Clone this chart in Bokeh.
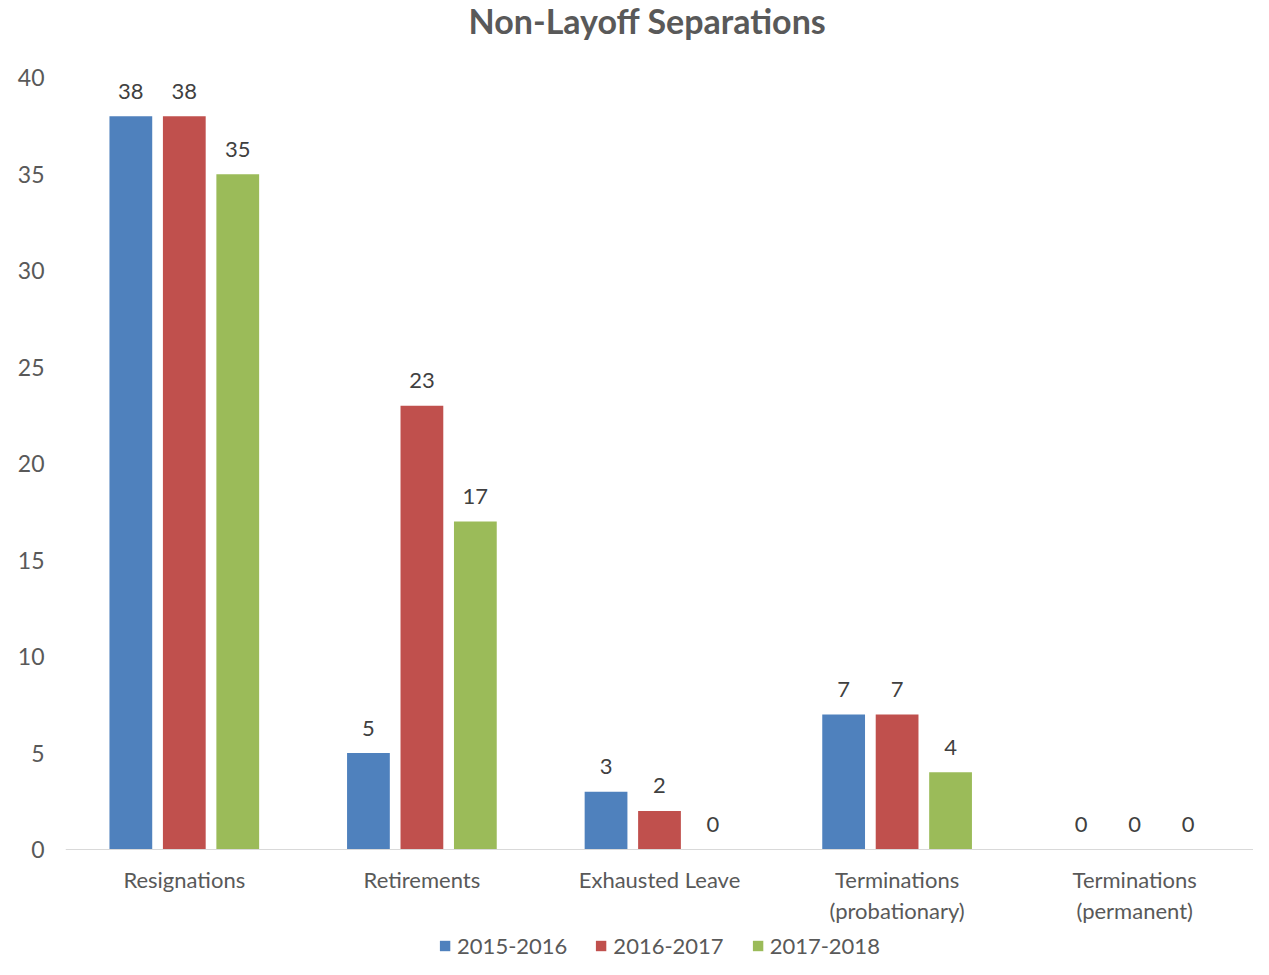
from bokeh.plotting import figure
from bokeh.models import ColumnDataSource, FactorRange, Range1d, Legend, LegendItem, Label
from bokeh.transform import dodge
from bokeh.core.properties import value
from bokeh.embed import file_html
from bokeh.resources import INLINE

categories = ["Resignations", "Retirements", "Exhausted Leave",
              "Terminations\n(probationary)", "Terminations\n(permanent)"]
series_names = ["2015-2016", "2016-2017", "2017-2018"]
s2015 = [38, 5, 3, 7, 0]
s2016 = [38, 23, 2, 7, 0]
s2017 = [35, 17, 0, 4, 0]
y_ticks = [0, 5, 10, 15, 20, 25, 30, 35, 40]
title_text = "Non-Layoff Separations"

colors = ["#4F81BD", "#C0504D", "#9BBB59"]
FONT = "Lato"

src = ColumnDataSource(dict(cat=categories, a=s2015, b=s2016, c=s2017,
                            la=[str(v) for v in s2015],
                            lb=[str(v) for v in s2016],
                            lc=[str(v) for v in s2017]))

# frame spans full height; extra room above 40 for the title and below 0 for labels/legend
p = figure(x_range=FactorRange(*categories, range_padding=0),
           y_range=Range1d(-5.7, 44.0), width=1253, height=959,
           output_backend="svg", toolbar_location=None,
           min_border_left=65, min_border_right=0,
           min_border_top=0, min_border_bottom=0)

title = Label(x=2.5, y=40, x_units="data", y_units="data", text=title_text,
              x_offset=-12, y_offset=57, text_align="center", text_baseline="middle",
              text_font=FONT, text_font_size="34px", text_font_style="bold",
              text_color="#595959")
p.add_layout(title)

offsets = [-0.225, 0.0, 0.225]
fields = ["a", "b", "c"]
lfields = ["la", "lb", "lc"]
renderers = []
for off, f, lf, col in zip(offsets, fields, lfields, colors):
    r = p.vbar(x=dodge("cat", off, range=p.x_range), top=f, bottom=0, width=0.18,
               source=src, fill_color=col, line_color=None)
    renderers.append(r)
    p.text(x=dodge("cat", off, range=p.x_range), y=f, text=lf, source=src,
           text_align="center", text_baseline="alphabetic", y_offset=-25,
           text_font=value(FONT), text_font_size="22px", text_color="#404040")

legend = Legend(items=[LegendItem(label=n, renderers=[r]) for n, r in zip(series_names, renderers)],
                orientation="horizontal", location="bottom_center",
                glyph_width=13, glyph_height=13, label_standoff=6, spacing=27,
                padding=0, margin=0, border_line_color=None, background_fill_alpha=0,
                label_text_font=FONT, label_text_font_size="22px", label_text_color="#595959")
p.add_layout(legend, "center")

p.yaxis.ticker = y_ticks
p.yaxis.axis_line_color = None
p.yaxis.major_tick_line_color = None
p.yaxis.minor_tick_line_color = None
p.yaxis.major_label_standoff = 15
p.yaxis.major_label_text_font = FONT
p.yaxis.major_label_text_font_size = "23px"
p.yaxis.major_label_text_color = "#595959"

p.xaxis.fixed_location = 0
p.xaxis.axis_line_color = "#D9D9D9"
p.xaxis.axis_line_width = 1
p.xaxis.major_tick_line_color = None
p.xaxis.major_label_standoff = 10
p.xaxis.major_label_text_font = FONT
p.xaxis.major_label_text_font_size = "22px"
p.xaxis.major_label_text_color = "#595959"
p.xaxis.major_label_text_line_height = 1.15

p.xgrid.grid_line_color = None
p.ygrid.grid_line_color = None
p.outline_line_color = None

open("out.html", "w").write(file_html(p, INLINE))
